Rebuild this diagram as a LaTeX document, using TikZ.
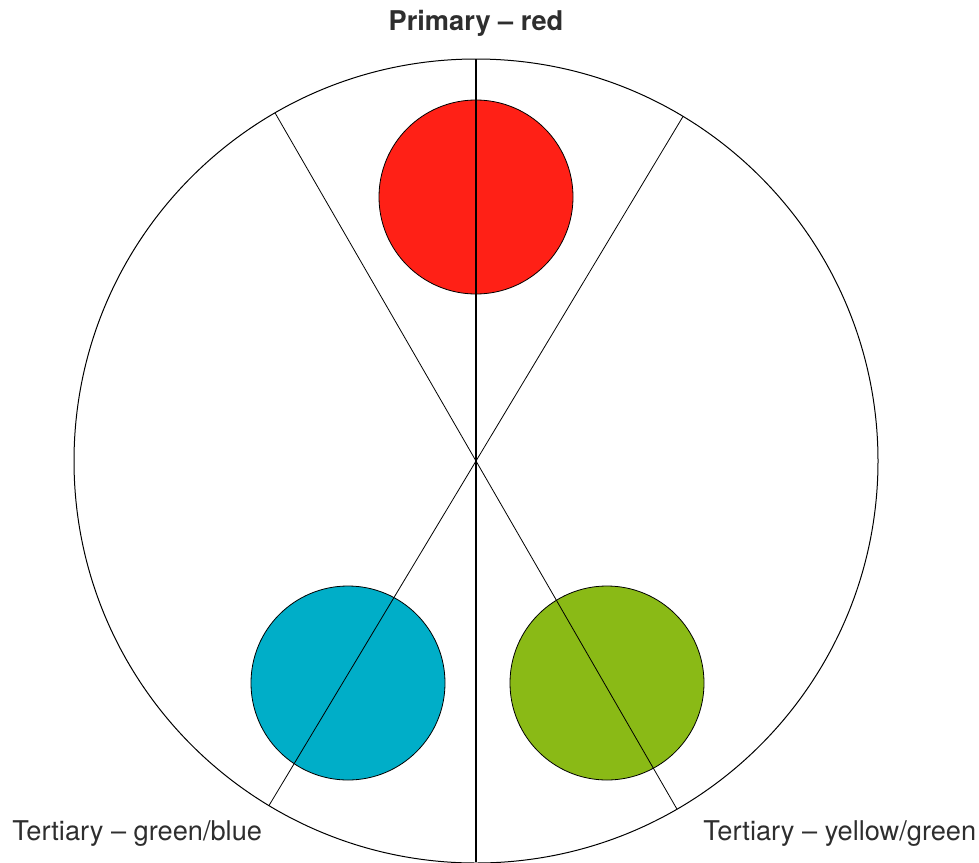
\documentclass[tikz,border=0pt]{standalone}
\usepackage{fontspec}
\setmainfont{TeX Gyre Heros}
\usepackage{tikz}
\usetikzlibrary{positioning,calc}
\usepackage{xcolor}
\definecolor{huered}{HTML}{FF2016}
\definecolor{hueblue}{HTML}{00AEC8}
\definecolor{huegreen}{HTML}{8ABA16}
\definecolor{inkgray}{HTML}{2E2E2E}
\tikzset{
  wheelnode/.style={
    circle, draw=black, inner sep=0pt, outer sep=0pt,
    minimum size=402pt, line width=0.5pt
  },
  swatch/.style={
    circle, draw=black, inner sep=0pt, outer sep=0pt,
    minimum size=97pt, line width=0.4pt
  },
  spoke/.style={
    line width=0.4pt, black
  },
  axis/.style={
    line width=0.8pt, black
  },
  toplabel/.style={
    font=\fontsize{13.6}{15}\selectfont\bfseries, color=inkgray, inner sep=0pt
  },
  sidelabel/.style={
    font=\fontsize{13.6}{15}\selectfont, color=inkgray, inner sep=0pt
  }
}
\begin{document}
\begin{tikzpicture}[x=0.5pt,y=-0.5pt]
\useasboundingbox (0,0) rectangle (979,862);
% rueda
\node[wheelnode] (wheel) at (476,461) {};
\coordinate (foot) at (476,862);

% muestras
\node[swatch, fill=huered] (red) at (476,197) {};
\node[swatch, fill=hueblue] (blue) at (348,683) {};
\node[swatch, fill=huegreen] (green) at (607,683) {};

% radios
\draw[axis] (wheel.north) -- (foot);
\draw[spoke] (wheel.120.6) -- (wheel.300.6);
\draw[spoke] (wheel.59.4) -- (wheel.239.4);

% etiquetas
\node[toplabel, anchor=base] (ptitle) at (476,31) {Primary – red};
\node[sidelabel, anchor=base west] (tleft) at (12,840) {Tertiary – green/blue};
\node[sidelabel, anchor=base west] (tright) at (703,840) {Tertiary – yellow/green};
\end{tikzpicture}
\end{document}
